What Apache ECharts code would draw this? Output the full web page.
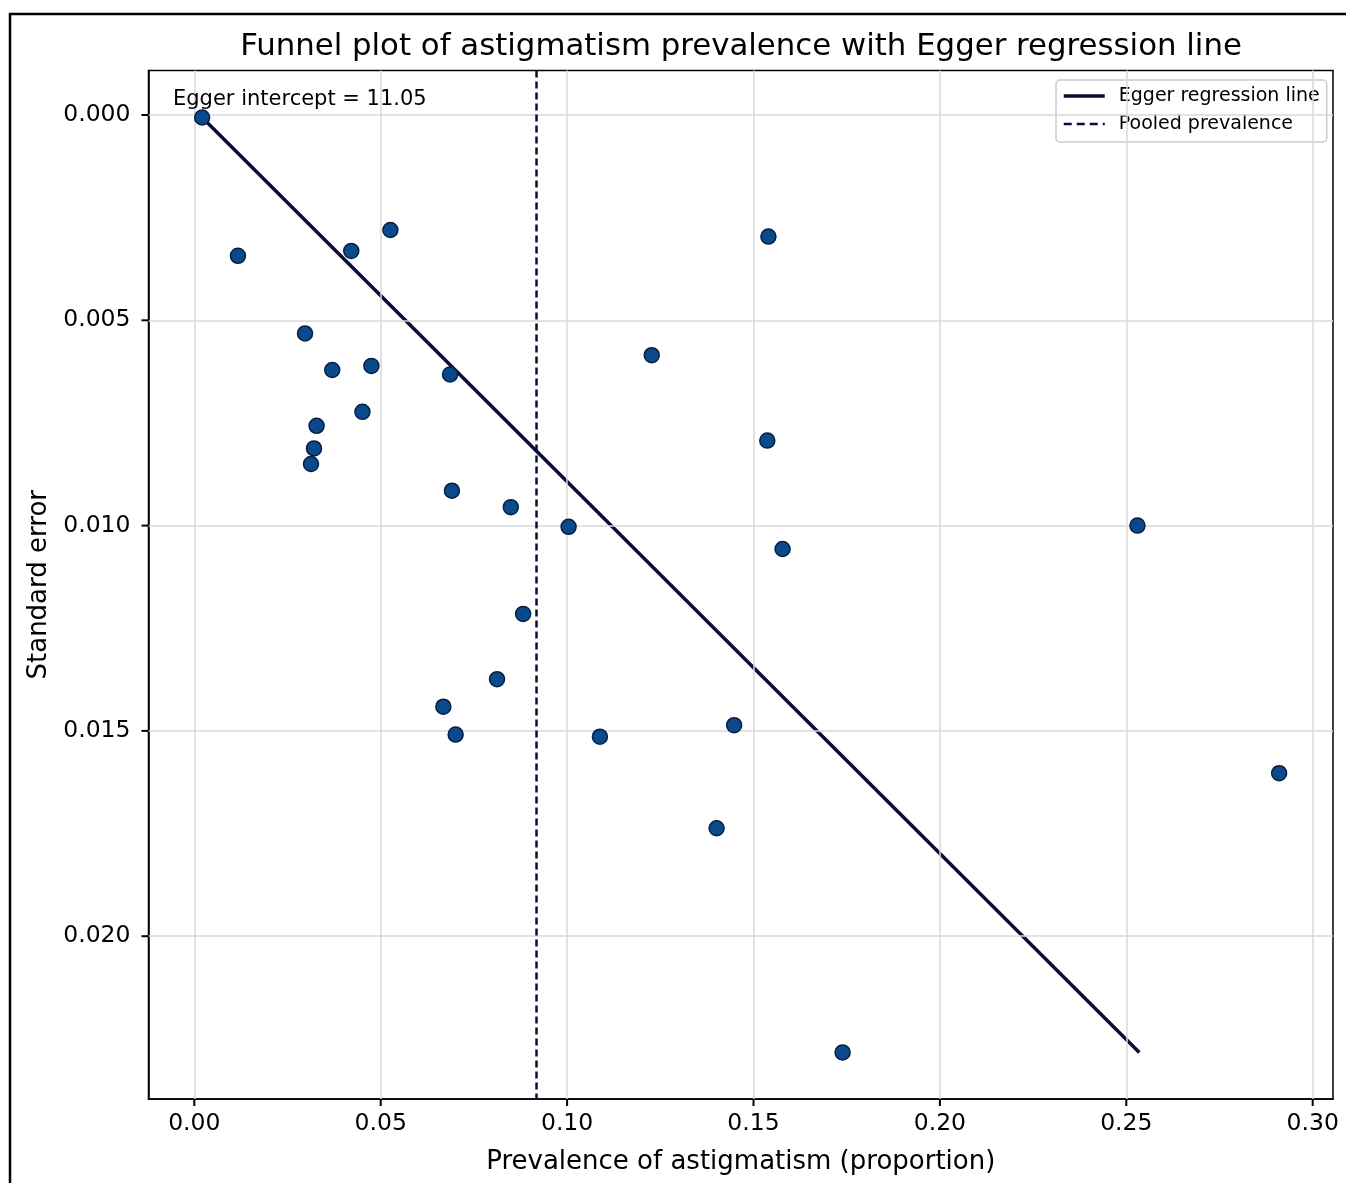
<!DOCTYPE html>
<html>
<head>
<meta charset="utf-8">
<script src="https://cdn.jsdelivr.net/npm/echarts@6/dist/echarts.min.js"></script>
<style>
html,body{margin:0;padding:0;background:#fff;}
#c{width:1346px;height:1183px;}
</style>
</head>
<body>
<div id="c"></div>
<script>
// ---- data ----
const prevalence = [0.0021,0.0117,0.0421,0.0526,0.0297,0.0370,0.0475,0.0686,0.0451,0.0328,0.0321,0.0313,0.0691,0.0849,0.1004,0.0882,0.0812,0.0668,0.0701,0.1088,0.1227,0.1540,0.1537,0.1578,0.1448,0.1401,0.1739,0.2530,0.2910];
const stdError   = [0.00006,0.00343,0.00331,0.00280,0.00532,0.00621,0.00611,0.00632,0.00723,0.00757,0.00812,0.00850,0.00915,0.00955,0.01003,0.01215,0.01374,0.01441,0.01509,0.01514,0.00585,0.00296,0.00793,0.01057,0.01486,0.01737,0.02283,0.01000,0.01603];
const eggerX = [0.0021, 0.2535];
const eggerY = [0.00006, 0.02283];
const pooledPrevalence = 0.0918;
const xTicks = [0.00,0.05,0.10,0.15,0.20,0.25,0.30];
const yTicks = [0.000,0.005,0.010,0.015,0.020];
const eggerIntercept = '11.05';

const points = prevalence.map((x,i)=>[x,stdError[i]]);
const eggerLine = eggerX.map((x,i)=>[x,eggerY[i]]);

const X_MIN = -0.01229, X_MAX = 0.30545, Y_MIN = -0.001084, Y_MAX = 0.023965;

const chart = echarts.init(document.getElementById('c'), null, {renderer:'canvas'});
const FONT = 'DejaVu Sans';
const navy = '#0a0e36';
const TICK_LEN = 7;

const gridLines = xTicks.map(v=>({xAxis:v})).concat(yTicks.map(v=>({yAxis:v})));

const option = {
  animation:false,
  backgroundColor:'#fff',
  grid:{left:148.5, top:70.5, width:1184.5, height:1028.5, show:true, borderColor:'#000', borderWidth:1.5, backgroundColor:'transparent'},
  xAxis:{
    type:'value', min:X_MIN, max:X_MAX,
    axisLine:{show:true, onZero:false, lineStyle:{color:'#000', width:1.5}},
    splitLine:{show:false},
    axisTick:{show:false},
    axisLabel:{customValues:xTicks, formatter:v=>v.toFixed(2), fontFamily:FONT, fontSize:23.5, color:'#000', margin:13},
    name:'Prevalence of astigmatism (proportion)', nameLocation:'middle', nameGap:50,
    nameTextStyle:{fontFamily:FONT, fontSize:26, color:'#000'}
  },
  yAxis:{
    type:'value', inverse:true, min:Y_MIN, max:Y_MAX,
    axisLine:{show:true, onZero:false, lineStyle:{color:'#000', width:1.5}},
    splitLine:{show:false},
    axisTick:{show:false},
    axisLabel:{customValues:yTicks, formatter:v=>v.toFixed(3), fontFamily:FONT, fontSize:23.5, color:'#000', margin:18},
    name:'Standard error', nameLocation:'middle', nameGap:94, nameRotate:90,
    nameTextStyle:{fontFamily:FONT, fontSize:26, color:'#000'}
  },
  legend:{
    orient:'vertical', left:1056, top:80,
    data:[
      {name:'Egger regression line', lineStyle:{width:3.5}},
      {name:'Pooled prevalence', lineStyle:{width:2.5, type:[8,5]}}
    ],
    itemWidth:41, itemHeight:14, itemGap:8,
    padding:[6,7,8,6],
    itemStyle:{opacity:0},
    borderColor:'#cccccc', borderWidth:1.5, borderRadius:4, backgroundColor:'rgba(255,255,255,0.85)',
    textStyle:{fontFamily:FONT, fontSize:19, color:'#000', lineHeight:20, padding:[0,0,0,9]},
    selectedMode:false
  },
  graphic:[
    {type:'rect', id:'frame', z:100, silent:true, shape:{x:10, y:14, width:1500, height:1400}, style:{fill:'none', stroke:'#000', lineWidth:2.5}},
    {type:'text', id:'title', z:100, silent:true, style:{text:'Funnel plot of astigmatism prevalence with Egger regression line', x:741, y:47, textAlign:'center', textVerticalAlign:'middle', font:'30.8px "DejaVu Sans"', fill:'#000'}},
    {type:'text', id:'note', z:100, silent:true, style:{text:'Egger intercept = '+eggerIntercept, x:173, y:100, textAlign:'left', textVerticalAlign:'middle', font:'21px "DejaVu Sans"', fill:'#000'}}
  ],
  series:[
    {type:'line', data:[], silent:true, z:1,
     markLine:{silent:true, precision:6, symbol:['none','none'], label:{show:false}, animation:false,
       lineStyle:{color:'#d9d9d9', width:1.5, type:'solid'}, emphasis:{disabled:true}, data:gridLines}},
    {type:'line', name:'Egger regression line', data:eggerLine, symbol:'none', z:3,
     lineStyle:{color:navy, width:3.5}, itemStyle:{color:navy}},
    {type:'line', name:'Pooled prevalence', data:[], symbol:'none', z:3,
     lineStyle:{color:navy, width:2.5, type:[7,4]}, itemStyle:{color:navy},
     markLine:{silent:true, precision:6, symbol:['none','none'], label:{show:false}, animation:false,
       lineStyle:{color:navy, width:2.5, type:[7,4]}, emphasis:{disabled:true}, data:[{xAxis:pooledPrevalence}]}},
    {type:'scatter', name:'Studies', data:points, symbolSize:15, z:5,
     itemStyle:{color:'#0a4a8a', borderColor:'#061f45', borderWidth:1.5, opacity:1}}
  ]
};
chart.setOption(option);

// tick marks placed through the library's own axis scales
const tickGraphics = [];
xTicks.forEach((v,i)=>{
  const p = chart.convertToPixel({gridIndex:0}, [v, Y_MAX]);
  tickGraphics.push({type:'line', id:'xt'+i, z:101, silent:true, shape:{x1:p[0], y1:p[1], x2:p[0], y2:p[1]+TICK_LEN}, style:{stroke:'#000', lineWidth:2}});
});
yTicks.forEach((v,i)=>{
  const p = chart.convertToPixel({gridIndex:0}, [X_MIN, v]);
  tickGraphics.push({type:'line', id:'yt'+i, z:101, silent:true, shape:{x1:p[0]-TICK_LEN, y1:p[1], x2:p[0], y2:p[1]}, style:{stroke:'#000', lineWidth:2}});
});
chart.setOption({graphic:tickGraphics});
</script>
</body>
</html>
